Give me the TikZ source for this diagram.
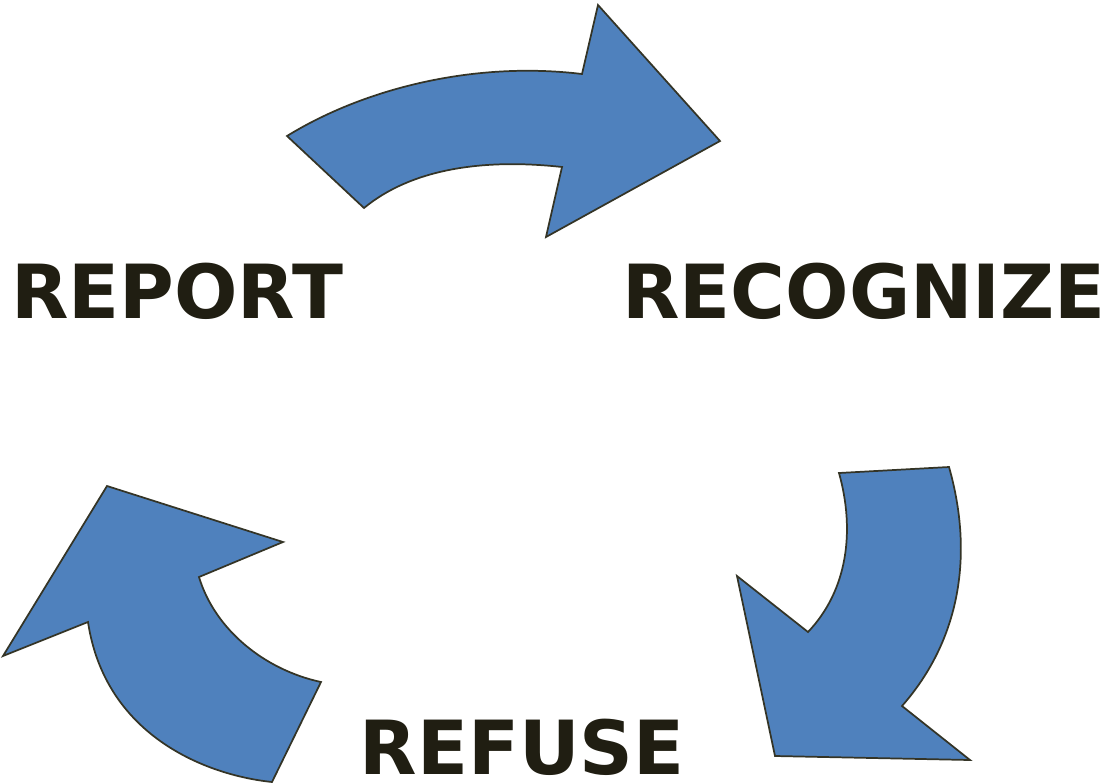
\documentclass[tikz,border=0pt]{standalone}
\usepackage{fontspec}
\setmainfont{DejaVu Sans}
\usepackage{tikz}
\definecolor{arrowblue}{RGB}{79,129,189}
\definecolor{arrowline}{RGB}{52,52,38}
\definecolor{labeltext}{RGB}{32,30,18}
\tikzset{every picture/.style={line width=0.75pt}}
\tikzset{
  bentarrow/.style={fill=arrowblue, draw=arrowline, line width=1.3pt, line join=miter},
  steplabel/.style={anchor=base, inner sep=0pt, text depth=0pt, text=labeltext, font=\fontsize{56}{60}\selectfont\bfseries}
}

\begin{document}
\begin{tikzpicture}[x=0.75pt,y=0.75pt,yscale=-1,xscale=1]
\useasboundingbox (0,0) rectangle (1111,783);

%Shape: Curved Arrow top [id:report-recognize]
\draw [bentarrow] (287,136) .. controls (365,88) and (475,61) .. (582,74) -- (598,5) -- (720,141) -- (546,237) -- (562,167) .. controls (480,158) and (410,170) .. (364,208) -- cycle ;
%Shape: Curved Arrow right [id:recognize-refuse]
\draw [bentarrow] (949,467) .. controls (974,555) and (960,640) .. (902,706) -- (970,760) -- (775,756) -- (737,576) -- (808,632) .. controls (848,590) and (855,530) .. (839,473) -- cycle ;
%Shape: Curved Arrow left [id:refuse-report]
\draw [bentarrow] (107,486) -- (283,542) -- (199,577) .. controls (215,630) and (265,670) .. (321,682) -- (272,782) .. controls (205,775) and (105,735) .. (88,622) -- (3,656) -- cycle ;

% Text Node
\node [steplabel] (report) at (177,318) {REPORT};
% Text Node
\node [steplabel] (recognize) at (864,318) {RECOGNIZE};
% Text Node
\node [steplabel] (refuse) at (522,774) {REFUSE};

\end{tikzpicture}
\end{document}
